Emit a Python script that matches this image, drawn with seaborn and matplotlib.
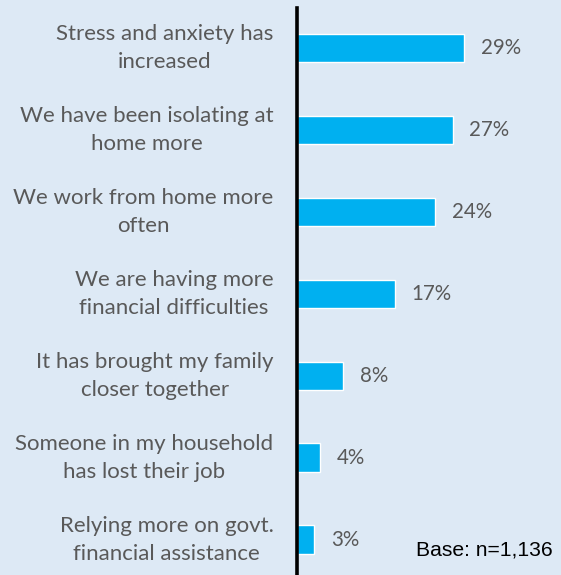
import matplotlib
matplotlib.use("Agg")
import matplotlib.pyplot as plt
import seaborn as sns
import pandas as pd

# ------------------------ data ------------------------
categories = [
    "Stress and anxiety has\nincreased",
    "We have been isolating at\nhome more",
    "We work from home more\noften",
    "We are having more\nfinancial difficulties",
    "It has brought my family\ncloser together",
    "Someone in my household\nhas lost their job",
    "Relying more on govt.\nfinancial assistance",
]
values = [29, 27, 24, 17, 8, 4, 3]
base_note = "Base: n=1,136"

BG = "#dde9f5"
BAR = "#00b0f0"
GREY = "#595959"

df = pd.DataFrame({"impact": categories, "pct": values})

sns.set_theme(style="white")
plt.rcParams["font.family"] = ["Lato", "DejaVu Sans"]

fig = plt.figure(figsize=(5.61, 5.75), dpi=100, facecolor=BG)
ax = fig.add_axes([297 / 561, 0.0, 264 / 561, 567 / 575])
ax.set_facecolor(BG)

sns.barplot(data=df, x="pct", y="impact", color=BAR, width=0.35,
            saturation=1, ax=ax)

ax.set_xlim(0, 45.8)
ax.set_ylim(6.43, -0.49)
ax.set_xlabel("")
ax.set_ylabel("")
ax.set_xticks([])

for s in ["top", "right", "bottom"]:
    ax.spines[s].set_visible(False)
ax.spines["left"].set_color("black")
ax.spines["left"].set_linewidth(2.6)

ax.tick_params(axis="y", length=0, pad=17)
for lab in ax.get_yticklabels():
    lab.set_fontsize(16)
    lab.set_color(GREY)
    lab.set_multialignment("center")
    lab.set_linespacing(1.48)
    lab.set_va("center")

for i, v in enumerate(values):
    ax.text(v + 2.9, i, f"{v}%", va="center", ha="left",
            fontsize=14.8, color=GREY)

fig.text(553 / 561, 1 - 550 / 575, base_note, ha="right", va="center",
         fontsize=15.2, color="black", family="Liberation Sans")

fig.savefig("out.png", dpi=100, facecolor=BG)
